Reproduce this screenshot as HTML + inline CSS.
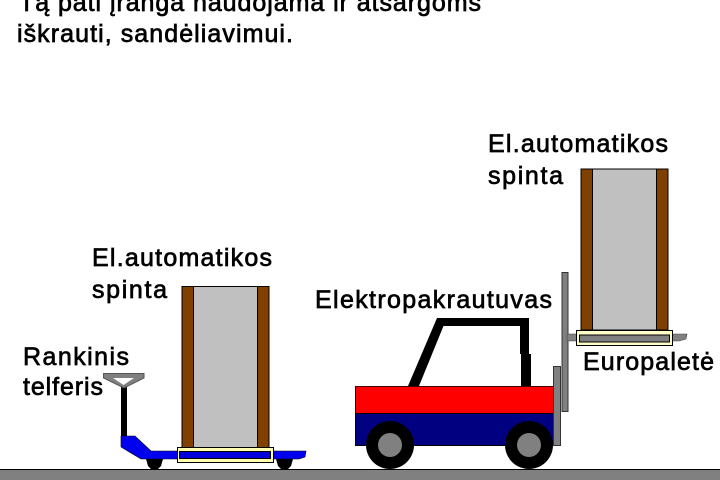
<!DOCTYPE html>
<html>
<head>
<meta charset="utf-8">
<style>
html,body{margin:0;padding:0;background:#fff;width:720px;height:480px;overflow:hidden}
svg{display:block}
text{font-family:"Liberation Sans",sans-serif;font-size:25px;fill:#000;stroke:#000;stroke-width:.7}
</style>
</head>
<body>
<svg width="720" height="480" viewBox="0 0 720 480" xmlns="http://www.w3.org/2000/svg">
<rect width="720" height="480" fill="#fff"/>

<!-- text -->
<text x="19" y="11" textLength="462" lengthAdjust="spacing">Tą pati įranga naudojama ir atsargoms</text>
<text x="17" y="42" textLength="276" lengthAdjust="spacing">iškrauti, sandėliavimui.</text>
<text x="488" y="152" textLength="180" lengthAdjust="spacing">El.automatikos</text>
<text x="488" y="184" textLength="75" lengthAdjust="spacing">spinta</text>
<text x="92" y="266" textLength="180" lengthAdjust="spacing">El.automatikos</text>
<text x="92" y="298" textLength="75" lengthAdjust="spacing">spinta</text>
<text x="315" y="308" textLength="237" lengthAdjust="spacing">Elektropakrautuvas</text>
<text x="23" y="365" textLength="106" lengthAdjust="spacing">Rankinis</text>
<text x="23" y="395" textLength="80" lengthAdjust="spacing">telferis</text>
<text x="583" y="370" textLength="131" lengthAdjust="spacing">Europaletė</text>

<!-- ground -->
<rect x="-2" y="469.5" width="724" height="14" fill="#808080" stroke="#000" stroke-width="1"/>

<!-- left cabinet -->
<rect x="182" y="286.5" width="87" height="161" fill="#c0c0c0" stroke="#000"/>
<rect x="182" y="286.5" width="11.5" height="161" fill="#804000" stroke="#000"/>
<rect x="257.5" y="286.5" width="11.5" height="161" fill="#804000" stroke="#000"/>

<!-- pallet truck -->
<polygon points="146,459 163,459 161,466 158,469 151,469 148,466" fill="#000"/>
<polygon points="276,459 293,459 291,466 288,469 281,469 278,466" fill="#000"/>
<rect x="121" y="386" width="6" height="52" fill="#000"/>
<polygon points="121,436 135,436 151,451 306,451 305,457 299,459 150,459 141,459 121,447" fill="#0000ee" stroke="#000" stroke-width=".6"/>
<path d="M103.5,373.5 H144 V378 L124,388 L103.5,378 Z" fill="#808080" stroke="#555" stroke-width="1"/>
<polygon points="113,378 134,378 123.5,385" fill="#fff"/>
<rect x="177.5" y="447.5" width="96" height="15" fill="#ffffb0" stroke="#000"/>
<rect x="179.5" y="451.5" width="91" height="7" fill="#0000dd" stroke="#000"/>

<!-- forklift: cab -->
<polygon points="408,386 437,318 529,318 529,354 531,354 531,386 521,386 521,354 520,354 520,326 443.5,326 419,386" fill="#000"/>
<!-- mast -->
<rect x="562" y="272.5" width="6" height="139" fill="#808080" stroke="#333" stroke-width="1"/>
<!-- body -->
<rect x="355.5" y="386.5" width="198" height="27" fill="#ff0000" stroke="#400" stroke-width="1"/>
<rect x="355.5" y="413.5" width="198" height="32" fill="#000080" stroke="#000" stroke-width="1"/>
<rect x="553.5" y="366.5" width="7" height="79" fill="#808080" stroke="#333" stroke-width="1"/>
<!-- wheels -->
<circle cx="390" cy="445" r="24" fill="#000"/>
<circle cx="390" cy="445" r="12" fill="#808080"/>
<circle cx="529" cy="445" r="24" fill="#000"/>
<circle cx="529" cy="445" r="12" fill="#808080"/>

<!-- right cabinet -->
<rect x="581" y="169" width="87" height="161" fill="#c0c0c0" stroke="#000"/>
<rect x="581" y="169" width="11.5" height="161" fill="#804000" stroke="#000"/>
<rect x="656.5" y="169" width="11.5" height="161" fill="#804000" stroke="#000"/>

<!-- fork and pallet -->
<polygon points="567,334 687,334 686,339 679,341 567,341" fill="#808080" stroke="#444" stroke-width=".6"/>
<rect x="576.5" y="330.5" width="96" height="15" fill="#ffffc8" stroke="#000"/>
<rect x="579.5" y="335" width="90" height="7" fill="#808080" stroke="#000"/>
</svg>
</body>
</html>
